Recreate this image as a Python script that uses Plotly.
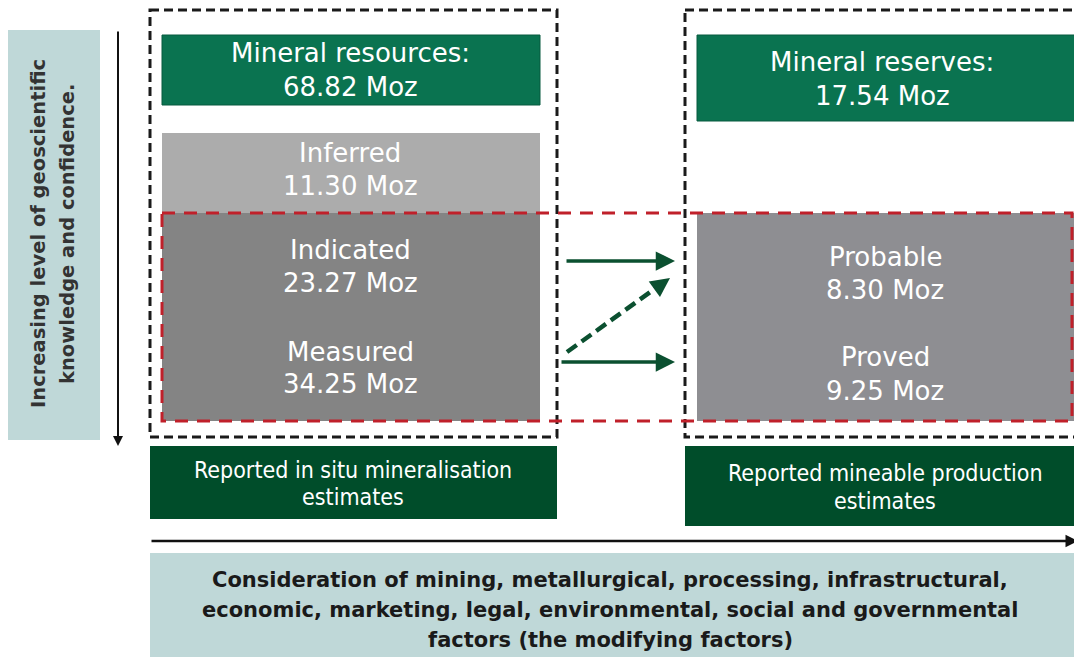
import plotly.graph_objects as go

W, H = 1074, 657

# ---- content ----
resources_title = "Mineral resources:"
resources_total = "68.82 Moz"
reserves_title = "Mineral reserves:"
reserves_total = "17.54 Moz"
resource_categories = ["Inferred", "Indicated", "Measured"]
resource_values = [11.30, 23.27, 34.25]
reserve_categories = ["Probable", "Proved"]
reserve_values = [8.30, 9.25]
left_footer = ["Reported in situ mineralisation", "estimates"]
right_footer = ["Reported mineable production", "estimates"]
side_label = ["Increasing level of geoscientific", "knowledge and confidence."]
bottom_text = ["Consideration of mining, metallurgical, processing, infrastructural,",
               "economic, marketing, legal, environmental, social and governmental",
               "factors (the modifying factors)"]

FONT = "DejaVu Sans"
NARROW = "DejaVu Sans Condensed, Liberation Sans Narrow, DejaVu Sans"
GREEN = "#0a7350"
DKGREEN = "#004d2a"
ARROWGREEN = "#0b5030"
TEAL = "#bfd8d8"
LIGHTGRAY = "#acacac"
MIDGRAY = "#848484"
RGRAY = "#8e8e92"
RED = "#c0202a"

fig = go.Figure()
shapes = []
ann = []

def rect(x0, y0, x1, y1, fill, line=None, dash=None, lw=0, layer="below"):
    d = dict(type="rect", x0=x0, y0=y0, x1=x1, y1=y1, xref="x", yref="y",
             fillcolor=fill, layer=layer, line=dict(width=lw, color=line or "rgba(0,0,0,0)"))
    if dash:
        d["line"]["dash"] = dash
    shapes.append(d)

def text(x, y, s, size=26, color="white", bold=False, family=FONT, angle=0):
    if bold:
        s = "<b>" + s + "</b>"
    ann.append(dict(x=x, y=y, xref="x", yref="y", text=s, showarrow=False,
                    font=dict(family=family, size=size, color=color),
                    textangle=angle, xanchor="center", yanchor="middle"))

# side teal label
rect(8, 30, 100, 440, TEAL)
text(38, 234, side_label[0], size=19.5, color="#333333", bold=True, angle=-90)
text(67, 234, side_label[1], size=19.5, color="#333333", bold=True, angle=-90)

# vertical arrow
ann.append(dict(x=118, y=446, ax=118, ay=30, xref="x", yref="y", axref="x", ayref="y",
                text="", showarrow=True, arrowhead=2, arrowsize=1, arrowwidth=2,
                arrowcolor="#111111"))

# left panel
rect(162, 35, 540, 105, GREEN, line="#075a3e", lw=1)
text(350, 53, resources_title)
text(350, 87, resources_total)
rect(162, 133, 540, 213, LIGHTGRAY)
text(350, 153, resource_categories[0])
text(350, 186, f"{resource_values[0]:.2f} Moz")
rect(162, 213, 540, 421, MIDGRAY)
text(350, 250, resource_categories[1])
text(350, 283, f"{resource_values[1]:.2f} Moz")
text(350, 352, resource_categories[2])
text(350, 384, f"{resource_values[2]:.2f} Moz")

# right panel
rect(697, 35, 1080, 121, GREEN, line="#075a3e", lw=1)
text(882, 62, reserves_title)
text(882, 96, reserves_total)
rect(697, 213, 1080, 421, RGRAY)
text(885, 257, reserve_categories[0])
text(885, 290, f"{reserve_values[0]:.2f} Moz")
text(885, 357, reserve_categories[1])
text(885, 391, f"{reserve_values[1]:.2f} Moz")

# dashed outlines
rect(150, 10, 557, 437, "rgba(0,0,0,0)", line="#1a1a1a", dash="9px,5px", lw=3, layer="above")
rect(685, 10, 1090, 437, "rgba(0,0,0,0)", line="#1a1a1a", dash="9px,5px", lw=3, layer="above")
rect(162, 213, 1072, 421, "rgba(0,0,0,0)", line=RED, dash="13px,9px", lw=3, layer="above")

# green arrows
ann.append(dict(x=675, y=261, ax=565, ay=261, xref="x", yref="y", axref="x", ayref="y",
                text="", showarrow=True, arrowhead=2, arrowsize=1.1, arrowwidth=3.5,
                arrowcolor=ARROWGREEN))
ann.append(dict(x=675, y=362, ax=560, ay=362, xref="x", yref="y", axref="x", ayref="y",
                text="", showarrow=True, arrowhead=2, arrowsize=1.1, arrowwidth=3.5,
                arrowcolor=ARROWGREEN))
shapes.append(dict(type="line", x0=567, y0=352, x1=660, y1=285, xref="x", yref="y",
                   line=dict(color=ARROWGREEN, width=4.5, dash="12px,6px"), layer="above"))
ann.append(dict(x=670, y=278, ax=658, ay=286.6, xref="x", yref="y", axref="x", ayref="y",
                text="", showarrow=True, arrowhead=2, arrowsize=1.1, arrowwidth=3.5,
                arrowcolor=ARROWGREEN))

# footers
rect(150, 446, 557, 519, DKGREEN)
text(353, 470, left_footer[0], size=23, family=NARROW)
text(353, 497, left_footer[1], size=23, family=NARROW)
rect(685, 446, 1080, 526, DKGREEN)
text(885, 473, right_footer[0], size=23, family=NARROW)
text(885, 501, right_footer[1], size=23, family=NARROW)

# horizontal arrow
ann.append(dict(x=1078, y=541, ax=150, ay=541, xref="x", yref="y", axref="x", ayref="y",
                text="", showarrow=True, arrowhead=2, arrowsize=1, arrowwidth=2.5,
                arrowcolor="#111111"))

# bottom teal
rect(150, 553, 1080, 660, TEAL)
for i, line in enumerate(bottom_text):
    text(610, 580 + i * 30, line, size=21, color="#1a1a1a", bold=True)

fig.update_layout(
    width=W, height=H, margin=dict(l=0, r=0, t=0, b=0),
    paper_bgcolor="white", plot_bgcolor="white",
    xaxis=dict(range=[0, W], visible=False, fixedrange=True),
    yaxis=dict(range=[H, 0], visible=False, fixedrange=True),
    shapes=shapes, annotations=ann, showlegend=False,
)

fig.write_html("out.html", config={"displayModeBar": False},
               post_script="document.body.style.margin='0';document.body.style.overflow='hidden';")
